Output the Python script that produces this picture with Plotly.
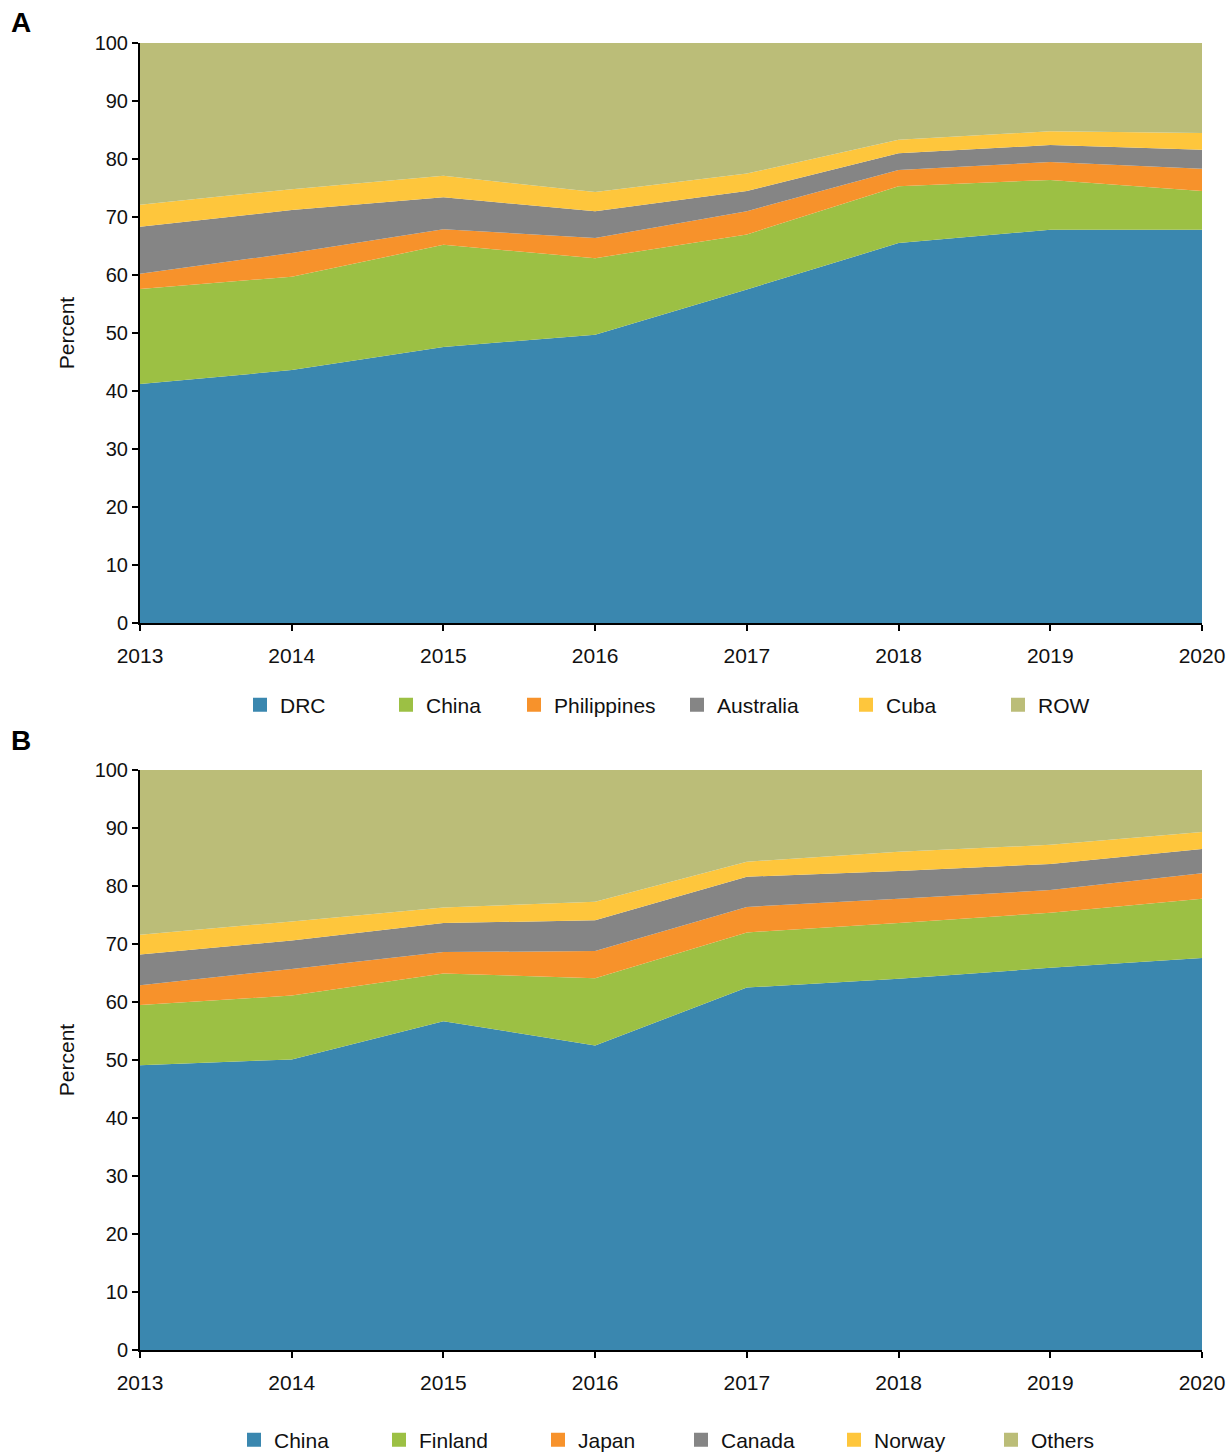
import plotly.graph_objects as go

years = [2013, 2014, 2015, 2016, 2017, 2018, 2019, 2020]

# Panel A shares (percent)
a_names = ["DRC", "China", "Philippines", "Australia", "Cuba", "ROW"]
a_drc = [41.2, 43.6, 47.6, 49.7, 57.5, 65.5, 67.8, 67.8]
a_china = [16.4, 16.1, 17.6, 13.2, 9.5, 9.8, 8.6, 6.7]
a_philippines = [2.6, 4.1, 2.7, 3.5, 4.0, 2.8, 3.1, 3.8]
a_australia = [8.1, 7.4, 5.5, 4.6, 3.5, 2.9, 2.9, 3.3]
a_cuba = [3.8, 3.6, 3.7, 3.3, 3.0, 2.3, 2.4, 2.9]
a_row = [27.9, 25.2, 22.9, 25.7, 22.5, 16.7, 15.2, 15.5]

# Panel B shares (percent)
b_names = ["China", "Finland", "Japan", "Canada", "Norway", "Others"]
b_china = [49.1, 50.1, 56.7, 52.5, 62.5, 64.0, 65.9, 67.6]
b_finland = [10.4, 11.0, 8.2, 11.6, 9.5, 9.6, 9.5, 10.2]
b_japan = [3.4, 4.6, 3.7, 4.7, 4.4, 4.2, 3.9, 4.4]
b_canada = [5.3, 4.9, 5.0, 5.3, 5.2, 4.8, 4.5, 4.2]
b_norway = [3.4, 3.3, 2.7, 3.2, 2.6, 3.3, 3.3, 2.9]
b_others = [28.4, 26.1, 23.7, 22.7, 15.8, 14.1, 12.9, 10.7]

y_ticks = [0, 10, 20, 30, 40, 50, 60, 70, 80, 90, 100]

colors = ["#3A87AF", "#9CC044", "#F7922B", "#858585", "#FEC63C", "#BBBD78"]

FONT = "Liberation Sans, Arial, Helvetica, sans-serif"

W, H = 1229, 1453
L, R, T, B = 140, 1229 - 1202, 43, 1453 - 1350
PW = W - L - R
PH = H - T - B

def py(pix):
    return (H - B - pix) / PH

def px(pix):
    return (pix - L) / PW

fig = go.Figure()

a_series = [a_drc, a_china, a_philippines, a_australia, a_cuba, a_row]
b_series = [b_china, b_finland, b_japan, b_canada, b_norway, b_others]

for name, vals, col in zip(a_names, a_series, colors):
    fig.add_trace(go.Scatter(x=years, y=vals, name=name, stackgroup="a", mode="none",
                             fillcolor=col, xaxis="x", yaxis="y", showlegend=False))
for name, vals, col in zip(b_names, b_series, colors):
    fig.add_trace(go.Scatter(x=years, y=vals, name=name, stackgroup="b", mode="none",
                             fillcolor=col, xaxis="x2", yaxis="y2", showlegend=False))

# legend entries (one legend per item to match spacing)
a_leg_x = [262, 408, 536, 699, 868, 1020]
b_leg_x = [256, 401, 560, 703, 856, 1013]
legends = {}
idx = 1
for names, xs, ycen, xa, ya in [(a_names, a_leg_x, 705, "x", "y"), (b_names, b_leg_x, 1440, "x2", "y2")]:
    for name, col, sx in zip(names, colors, xs):
        key = "legend" if idx == 1 else f"legend{idx}"
        fig.add_trace(go.Scatter(x=[None], y=[None], mode="markers", name=name,
                                 marker=dict(symbol="square", size=14, color=col),
                                 xaxis=xa, yaxis=ya, showlegend=True, legend=key))
        legends[key] = dict(x=px(sx - 22), y=py(ycen), xanchor="left", yanchor="middle",
                            bgcolor="rgba(0,0,0,0)", borderwidth=0,
                            font=dict(family=FONT, size=21, color="#111"),
                            itemclick=False, itemdoubleclick=False)
        idx += 1

axis_common = dict(showgrid=False, zeroline=False, showline=True, linecolor="black",
                   linewidth=2, ticks="outside", tickcolor="black", tickwidth=2,
                   ticklen=6, automargin=False)

yaxis_cfg = dict(axis_common, range=[0, 100], tickvals=y_ticks,
                 tickfont=dict(family=FONT, size=20, color="#111"),
                 title=dict(text="Percent", font=dict(family=FONT, size=21, color="#111"), standoff=14))
xaxis_cfg = dict(axis_common, range=[2013, 2020], tickvals=years, ticklabelstandoff=7,
                 ticklabeloverflow="allow",
                 tickfont=dict(family=FONT, size=21, color="#111"))

fig.update_layout(
    width=W, height=H,
    margin=dict(l=L, r=R, t=T, b=B, autoexpand=False),
    plot_bgcolor="white", paper_bgcolor="white",
    font=dict(family=FONT, color="#111"),
    xaxis=dict(xaxis_cfg, domain=[0, 1], anchor="y"),
    yaxis=dict(yaxis_cfg, domain=[py(623), 1.0], anchor="x"),
    xaxis2=dict(xaxis_cfg, domain=[0, 1], anchor="y2"),
    yaxis2=dict(yaxis_cfg, domain=[0, py(770)], anchor="x2"),
    annotations=[
        dict(text="<b>A</b>", x=px(9), y=py(22), xref="paper", yref="paper",
             xanchor="left", yanchor="middle", showarrow=False,
             font=dict(family=FONT, size=28, color="black")),
        dict(text="<b>B</b>", x=px(9), y=py(740), xref="paper", yref="paper",
             xanchor="left", yanchor="middle", showarrow=False,
             font=dict(family=FONT, size=28, color="black")),
    ],
    **legends,
)

fig.write_html("out.html", config={"displayModeBar": False},
               post_script="document.body.style.margin='0px';")
